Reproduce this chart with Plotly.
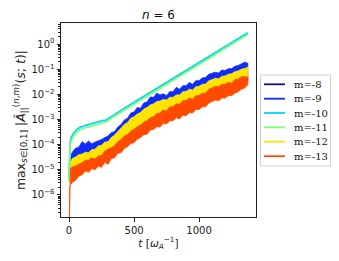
import plotly.graph_objects as go

# ---------------- data ----------------
# time grids
t_band = [10, 25, 50, 75, 100, 150, 200, 250, 300, 350, 400, 450, 500, 550, 600, 650,
          700, 750, 800, 850, 900, 950, 1000, 1050, 1100, 1150, 1200, 1250, 1300, 1350, 1375]
t_fine = [10, 25, 50, 75, 100, 125, 150, 175, 200, 225, 250, 275, 300, 325, 350, 375, 400,
          425, 450, 475, 500, 525, 550, 575, 600, 625, 650, 675, 700, 725, 750, 775, 800,
          825, 850, 875, 900, 925, 950, 975, 1000, 1025, 1050, 1075, 1100, 1125, 1150, 1175,
          1200, 1225, 1250, 1275, 1300, 1325, 1350, 1375]
t_m13 = [0, 5] + t_fine

# m=-8 (upper / lower envelope of the noisy trace, on t_band)
m8_hi = [1.6e-5, 3.2e-5, 7.1e-5, 6.3e-5, 4.5e-5, 4.5e-5, 5.6e-5, 7.9e-5, 1.26e-4, 2.0e-4, 3.5e-4,
         6.3e-4, 1.0e-3, 1.4e-3, 2.2e-3, 3.2e-3, 4.0e-3, 4.5e-3, 5.6e-3, 7.1e-3, 1.0e-2, 1.12e-2,
         1.6e-2, 2.0e-2, 2.8e-2, 3.2e-2, 4.0e-2, 5.0e-2, 6.3e-2, 7.9e-2, 8.9e-2]
m8_lo = [6.3e-6, 1.0e-5, 2.0e-5, 1.8e-5, 1.6e-5, 1.8e-5, 2.2e-5, 3.2e-5, 4.5e-5, 6.3e-5, 1.12e-4,
         1.9e-4, 3.2e-4, 4.5e-4, 7.1e-4, 1.0e-3, 1.26e-3, 1.4e-3, 1.8e-3, 2.2e-3, 2.8e-3, 3.5e-3,
         4.5e-3, 5.6e-3, 7.9e-3, 8.9e-3, 1.12e-2, 1.4e-2, 2.0e-2, 2.8e-2, 3.5e-2]

# m=-9: upper edge on t_fine, lower edge on t_band
m9_hi = [3.2e-5, 5.0e-5, 7.1e-5, 7.9e-5, 1.3e-4, 1.05e-4, 1.4e-4, 1.07e-4, 1.26e-4, 1.4e-4,
         1.6e-4, 1.9e-4, 2.2e-4, 3.0e-4, 3.3e-4, 5.0e-4, 6.3e-4, 9.5e-4, 1.12e-3, 1.8e-3,
         2.0e-3, 3.0e-3, 2.8e-3, 4.5e-3, 5.0e-3, 7.9e-3, 7.6e-3, 1.12e-2, 9.5e-3, 1.05e-2,
         8.9e-3, 1.3e-2, 1.26e-2, 1.9e-2, 1.6e-2, 2.2e-2, 2.2e-2, 3.0e-2, 2.5e-2, 3.5e-2,
         3.5e-2, 4.5e-2, 4.7e-2, 6.3e-2, 7.1e-2, 7.6e-2, 7.1e-2, 9.3e-2, 8.9e-2, 0.105,
         0.105, 0.13, 0.14, 0.166, 0.19, 0.174]
m9_lo = [1.26e-5, 1.8e-5, 2.5e-5, 3.2e-5, 4.0e-5, 5.0e-5, 5.6e-5, 7.6e-5, 1.12e-4, 1.6e-4, 2.8e-4,
         4.5e-4, 7.1e-4, 1.12e-3, 2.0e-3, 3.2e-3, 4.5e-3, 5.0e-3, 5.6e-3, 7.1e-3, 8.9e-3, 1.12e-2,
         1.4e-2, 2.0e-2, 2.6e-2, 3.2e-2, 4.0e-2, 5.0e-2, 6.6e-2, 8.9e-2, 0.10]

# m=-12: upper edge on t_fine, lower edge on t_band
m12_hi = [2.0e-5, 2.8e-5, 3.2e-5, 4.0e-5, 4.2e-5, 5.0e-5, 4.8e-5, 6.3e-5, 6.6e-5, 8.9e-5,
          9.5e-5, 1.26e-4, 1.3e-4, 1.9e-4, 2.4e-4, 3.3e-4, 4.2e-4, 6.3e-4, 7.6e-4, 1.12e-3,
          1.3e-3, 1.66e-3, 1.9e-3, 2.6e-3, 3.0e-3, 3.8e-3, 4.2e-3, 5.2e-3, 5.4e-3, 6.3e-3,
          6.0e-3, 7.6e-3, 7.6e-3, 9.5e-3, 9.5e-3, 1.26e-2, 1.3e-2, 1.6e-2, 1.5e-2, 2.0e-2,
          2.1e-2, 2.5e-2, 2.6e-2, 3.5e-2, 3.8e-2, 4.4e-2, 4.2e-2, 5.2e-2, 5.4e-2, 6.3e-2,
          6.6e-2, 7.9e-2, 8.5e-2, 0.10, 0.107, 0.12]
m12_lo = [6.3e-6, 7.9e-6, 1.12e-5, 1.4e-5, 1.8e-5, 2.2e-5, 2.8e-5, 4.0e-5, 5.0e-5, 7.9e-5, 1.4e-4,
          2.5e-4, 4.0e-4, 6.3e-4, 8.9e-4, 1.26e-3, 1.8e-3, 2.0e-3, 2.5e-3, 3.2e-3, 4.0e-3, 5.0e-3,
          6.3e-3, 7.9e-3, 1.0e-2, 1.26e-2, 1.6e-2, 2.0e-2, 2.8e-2, 4.0e-2, 5.0e-2]

# m=-13: both edges on t_m13 (starts with the spike at t=0)
m13_hi = [1e-8, 1.0e-5, 1.12e-5, 1.3e-5, 1.4e-5, 1.66e-5, 1.9e-5, 2.4e-5, 2.4e-5, 3.0e-5,
          2.6e-5, 3.5e-5, 3.5e-5, 5.6e-5, 6.3e-5, 7.6e-5, 8.9e-5, 1.3e-4, 1.6e-4, 2.2e-4,
          2.5e-4, 3.5e-4, 4.0e-4, 5.2e-4, 5.6e-4, 7.9e-4, 8.9e-4, 1.2e-3, 1.26e-3, 1.74e-3,
          1.8e-3, 2.4e-3, 2.2e-3, 3.2e-3, 3.2e-3, 4.2e-3, 4.0e-3, 5.6e-3, 5.6e-3, 7.1e-3,
          6.3e-3, 8.9e-3, 8.9e-3, 1.12e-2, 1.12e-2, 1.6e-2, 1.8e-2, 2.1e-2, 2.0e-2, 2.5e-2,
          2.5e-2, 3.0e-2, 2.8e-2, 3.8e-2, 4.0e-2, 5.0e-2, 5.2e-2, 4.8e-2]
m13_lo = [1e-8, 2.0e-6, 2.5e-6, 3.2e-6, 3.8e-6, 5.6e-6, 6.3e-6, 8.9e-6, 7.9e-6, 1.12e-5,
          1.0e-5, 1.4e-5, 1.26e-5, 2.0e-5, 1.66e-5, 2.8e-5, 3.0e-5, 4.5e-5, 4.8e-5, 7.1e-5,
          8.3e-5, 1.12e-4, 1.2e-4, 1.66e-4, 1.9e-4, 2.5e-4, 2.6e-4, 3.8e-4, 4.0e-4, 5.2e-4,
          5.0e-4, 7.1e-4, 6.6e-4, 8.9e-4, 8.9e-4, 1.2e-3, 1.05e-3, 1.5e-3, 1.4e-3, 1.9e-3,
          1.8e-3, 2.5e-3, 2.5e-3, 3.2e-3, 3.2e-3, 4.5e-3, 5.0e-3, 6.0e-3, 5.6e-3, 7.1e-3,
          7.1e-3, 8.9e-3, 8.9e-3, 1.12e-2, 1.26e-2, 1.6e-2, 1.8e-2, 2.4e-2]

# smooth modes
t_smooth = [0, 3, 8, 15, 33, 60, 85, 130, 187, 240, 265, 285, 320, 400, 500, 600,
            700, 800, 900, 1000, 1100, 1200, 1300, 1375]
m10 = [4.0e-6, 3.2e-5, 1.1e-4, 1.8e-4, 2.8e-4, 4.0e-4, 4.9e-4, 5.9e-4, 7.1e-4, 8.9e-4, 9.3e-4,
       9.5e-4, 1.26e-3, 2.3e-3, 4.8e-3, 1.0e-2, 2.0e-2, 4.3e-2, 8.9e-2, 0.18, 0.38, 0.79, 1.62, 2.8]
m11 = [3.2e-6, 2.0e-5, 7.9e-5, 1.35e-4, 2.1e-4, 3.2e-4, 3.9e-4, 4.8e-4, 5.8e-4, 7.4e-4, 7.9e-4,
       8.1e-4, 1.07e-3, 2.0e-3, 4.1e-3, 8.5e-3, 1.74e-2, 3.6e-2, 7.6e-2, 0.155, 0.32, 0.68, 1.38, 2.4]

legend_labels = ["m=-8", "m=-9", "m=-10", "m=-11", "m=-12", "m=-13"]
colors = ["#10107f", "#0f2cff", "#00d6ff", "#7dfd7a", "#ffe400", "#ff4a00"]

x_ticks = [0, 500, 1000]
y_tick_exps = [-6, -5, -4, -3, -2, -1, 0]

# ---------------- figure ----------------
fig = go.Figure()


def band(t_hi, hi, t_lo, lo, color, name):
    fig.add_trace(go.Scatter(
        x=list(t_hi) + list(t_lo)[::-1], y=list(hi) + list(lo)[::-1],
        mode="lines", fill="toself", fillcolor=color, name=name,
        line=dict(color=color, width=0.8), showlegend=False, hoverinfo="skip"))


def smooth(t, y, color, name):
    fig.add_trace(go.Scatter(x=t, y=y, mode="lines", name=name,
                             line=dict(color=color, width=1.8), showlegend=False))


band(t_band, m8_hi, t_band, m8_lo, colors[0], legend_labels[0])
band(t_fine, m9_hi, t_band, m9_lo, colors[1], legend_labels[1])
smooth(t_smooth, m10, colors[2], legend_labels[2])
smooth(t_smooth, m11, colors[3], legend_labels[3])
band(t_fine, m12_hi, t_band, m12_lo, colors[4], legend_labels[4])
band(t_m13, m13_hi, t_m13, m13_lo, colors[5], legend_labels[5])

# ---- layout geometry (page has an 8px body margin, so the figure is offset) ----
OFF = 8
W, H = 339 - OFF, 261 - OFF
L, R, T, B = 61 - OFF, 256 - OFF, 23 - OFF, 217 - OFF   # plot-area pixel edges in figure


def px(xp):   # xp: screen pixel
    return (xp - OFF - L) / (R - L)


def py(yp):
    return (B - (yp - OFF)) / (B - T)


shapes = [dict(type="rect", xref="paper", yref="paper",
               x0=px(260.5), x1=px(330.5), y0=py(166), y1=py(75),
               line=dict(color="#d0d0d0", width=1), fillcolor="white", layer="above")]
annotations = []
row_y = [84.3, 98.7, 113.0, 127.3, 141.7, 156.2]
for lab, col, ry in zip(legend_labels, colors, row_y):
    shapes.append(dict(type="line", xref="paper", yref="paper",
                       x0=px(264), x1=px(285), y0=py(ry), y1=py(ry),
                       line=dict(color=col, width=1.8), layer="above"))
    annotations.append(dict(text=lab, xref="paper", yref="paper", x=px(292), y=py(ry),
                            xanchor="left", yanchor="middle", showarrow=False,
                            font=dict(family="DejaVu Serif", size=10, color="#111")))

minor_vals = [k * 10.0 ** e for e in range(-7, 1) for k in range(2, 10)]

fig.update_layout(
    width=W, height=H,
    margin=dict(l=L, r=W - R, t=T, b=H - B),
    paper_bgcolor="white", plot_bgcolor="white",
    font=dict(family="DejaVu Sans", size=10, color="#222"),
    title=dict(text="<i>n</i> = 6", x=0.5, xref="paper", xanchor="center",
               y=1 - 6.8 / H, yref="container", yanchor="middle",
               font=dict(size=12, family="DejaVu Sans", color="#111")),
    showlegend=False,
    shapes=shapes,
    annotations=annotations,
)

fig.update_xaxes(
    range=[-62, 1438], tickvals=x_ticks, ticktext=[str(v) for v in x_ticks],
    ticks="outside", ticklen=3.5, tickwidth=0.8, tickcolor="#222",
    showline=True, linecolor="#222", linewidth=1, mirror=True,
    showgrid=False, zeroline=False, automargin=False,
    title=dict(text="<i>t</i> [<i>ω</i><sub><i>A</i></sub><sup>−1</sup>]", standoff=3,
               font=dict(size=10.5)),
)

fig.update_yaxes(
    type="log", range=[-6.88, 0.84],
    tickvals=[10.0 ** e for e in y_tick_exps],
    ticktext=["10<sup>%s</sup>" % (str(e).replace("-", "−")) for e in y_tick_exps],
    ticks="outside", ticklen=3.5, tickwidth=0.8, tickcolor="#222",
    minor=dict(tickvals=minor_vals, ticks="outside", ticklen=2, tickwidth=0.6, tickcolor="#222",
               showgrid=False),
    showline=True, linecolor="#222", linewidth=1, mirror=True,
    showgrid=False, zeroline=False, automargin=False,
    title=dict(text="max<sub><i>s</i>∈[0,1]</sub> |<i>Â</i><sub>||</sub><sup>(<i>n</i>,<i>m</i>)</sup>(<i>s</i>; <i>t</i>)|",
               standoff=3, font=dict(size=12.5)),
)

fig.write_html("out.html")
